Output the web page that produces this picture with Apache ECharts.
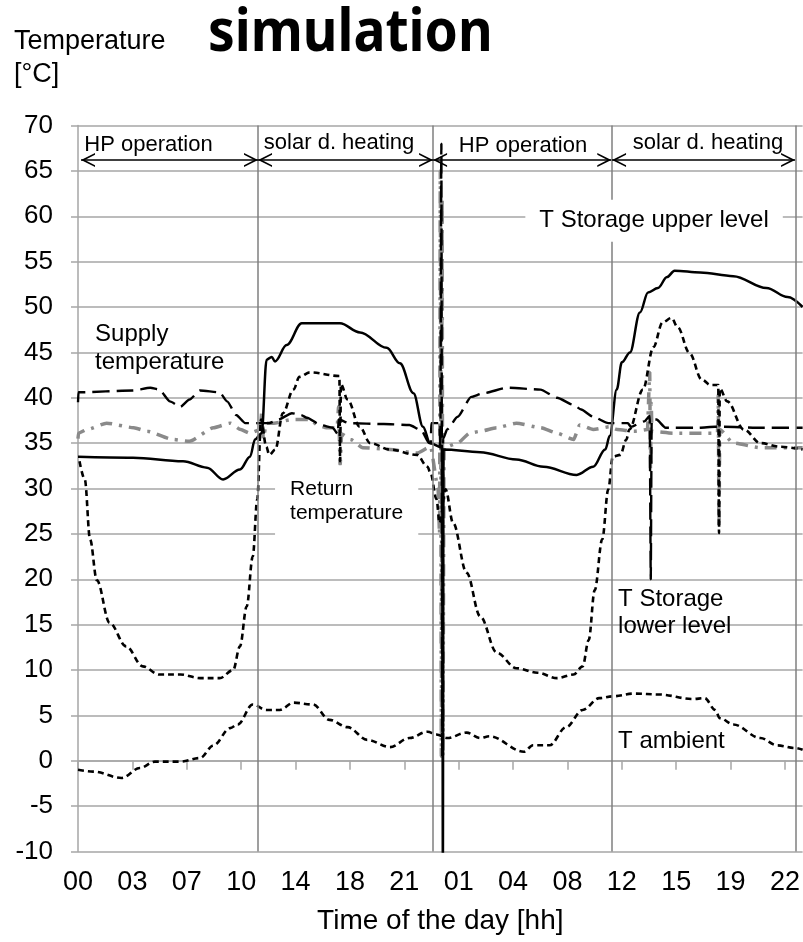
<!DOCTYPE html>
<html>
<head>
<meta charset="utf-8">
<title>simulation</title>
<script src="https://cdn.jsdelivr.net/npm/echarts@6/dist/echarts.min.js"></script>
<style>
  html, body { margin: 0; padding: 0; background: #fff; }
  #chart { width: 803px; height: 942px; }
</style>
</head>
<body>
<div id="chart"></div>
<script>
// values: [hour since start, °C]
const upperStorage = [
  [0, 33.5], [3.65, 33.4], [6.97, 33.0], [8.56, 32.3], [9.63, 31.0], [10.75, 32.1],
  [11.42, 33.5], [11.75, 35.4], [12.19, 36.1], [12.52, 44.2], [12.86, 44.5], [13.08, 44.0],
  [13.85, 45.8], [14.85, 48.2], [17.39, 48.2], [18.72, 47.2], [20.49, 45.5], [21.37, 43.8],
  [22.27, 40.5], [22.9, 36.8], [23.37, 35.0], [24.18, 34.5], [24.22, -12], [24.26, 34.3],
  [26.7, 34.0], [29.1, 33.2], [30.9, 32.4], [33.1, 31.5], [34.2, 32.4], [35.0, 34.3],
  [35.3, 35.8], [35.76, 40.9], [36.1, 43.9], [36.64, 45.0], [37.3, 49.4], [37.84, 51.6],
  [38.5, 52.1], [39.1, 53.3], [39.6, 54.0], [41.3, 53.8], [43.5, 53.4], [45.7, 52.1],
  [47.1, 51.1], [48.1, 50.0]
];

const lowerStorage = [
  [0.1, 33.0], [0.45, 31.0], [0.8, 24.4], [1.25, 19.9], [2.1, 15.2], [3.2, 12.6],
  [4.3, 10.4], [5.4, 9.5], [6.8, 9.5], [8.1, 9.1], [9.4, 9.1], [10.3, 10.0],
  [10.75, 12.6], [11.2, 17.0], [11.6, 22.5], [11.9, 28.8], [12.15, 37.6], [12.5, 34.6],
  [12.7, 33.7], [13.1, 34.3], [13.6, 38.3], [14.3, 40.9], [14.7, 42.3], [15.4, 42.8],
  [17.35, 42.4], [17.4, 33.0], [17.45, 41.5], [17.9, 39.8], [18.7, 36.8], [19.4, 35.0],
  [20.7, 34.3], [22.5, 33.7], [23.2, 32.4], [23.4, 31.7], [23.8, 28.8], [24.0, 26.2],
  [24.4, 29.9], [24.9, 26.2], [25.8, 20.7], [26.7, 15.9], [27.8, 11.9], [29.1, 10.2],
  [30.5, 9.7], [31.8, 9.1], [32.9, 9.5], [33.5, 10.4], [33.9, 13.3], [34.3, 18.8],
  [34.8, 24.4], [35.2, 29.9], [35.5, 33.5], [36.0, 33.7], [36.4, 35.4], [36.6, 36.5],
  [37.5, 40.9], [38.2, 45.6], [38.8, 48.3], [39.4, 48.8], [39.8, 47.8], [40.6, 44.9],
  [41.4, 42.0], [42.0, 41.4], [42.5, 41.4], [42.55, 25.1], [42.6, 41.0], [43.1, 39.6],
  [44.2, 36.5], [45.3, 35.0], [46.6, 34.6], [48.1, 34.3]
];

const supplyTemp = [
  [0, 39.5], [0.03, 40.6], [3.65, 40.8], [4.8, 41.1], [5.4, 40.9], [6.1, 39.6],
  [6.8, 39.0], [7.4, 39.8], [8.1, 40.8], [9.4, 40.6], [9.9, 39.6], [10.5, 38.1],
  [11.1, 37.2], [11.9, 37.2], [12.7, 37.2], [13.3, 37.6], [14.2, 38.3], [14.8, 38.1],
  [15.2, 37.8], [16.1, 37.0], [16.9, 36.7], [17.25, 36.0], [17.3, 37.6], [18.0, 37.2],
  [20.3, 37.1], [22.0, 37.0], [22.8, 36.4], [23.3, 35.0], [23.42, 35.0], [23.45, 37.2],
  [24.0, 37.2], [24.05, 34.5], [24.12, 68.0], [24.18, 0.5], [24.24, 35.5], [24.5, 36.5],
  [25.2, 37.9], [26.1, 40.1], [26.9, 40.5], [28.5, 41.1], [30.7, 40.9], [31.8, 40.0],
  [32.9, 39.2], [33.4, 38.7], [34.2, 37.9], [35.2, 37.2], [36.5, 37.2], [36.7, 36.8],
  [37.6, 37.4], [37.95, 38.0], [38.02, 20.0], [38.08, 37.6], [38.4, 37.6], [39.0, 36.7],
  [41.2, 36.7], [42.3, 36.8], [42.9, 36.8], [45.0, 36.7], [48.1, 36.7]
];

const returnTemp = [
  [0, 35.5], [0.03, 36.1], [0.6, 36.5], [1.9, 37.2], [3.7, 36.7], [4.6, 36.3],
  [6.3, 35.4], [7.4, 35.2], [9.0, 36.7], [10.1, 37.2], [10.8, 36.5], [11.4, 36.1],
  [12.1, 36.5], [12.2, 38.5], [12.3, 35.5], [12.5, 37.2], [13.0, 37.2], [14.2, 37.6],
  [15.4, 37.6], [15.9, 37.0], [16.5, 36.7], [17.2, 36.7], [17.3, 39.0], [17.4, 32.6],
  [17.5, 36.0], [18.1, 35.4], [18.9, 34.5], [20.7, 34.3], [22.5, 33.9], [23.4, 34.6],
  [23.9, 30.0], [24.0, 25.0], [24.05, 65.0], [24.12, 0.5], [24.17, 62.0], [24.22, 0.5],
  [24.3, 34.5], [25.2, 35.0], [26.0, 36.1], [26.7, 36.3], [27.8, 36.7], [29.1, 37.2],
  [30.7, 36.7], [31.8, 36.1], [32.9, 35.4], [33.3, 37.0], [34.2, 36.5], [35.3, 36.8],
  [35.8, 36.5], [36.9, 36.3], [37.8, 36.5], [37.95, 42.8], [38.0, 32.1], [38.05, 39.4],
  [38.1, 36.3], [39.5, 36.1], [41.7, 36.1], [42.45, 36.1], [42.5, 40.3], [42.55, 25.7],
  [42.6, 36.5], [43.5, 35.0], [45.3, 34.5], [48.1, 34.5]
];

const ambientTemp = [
  [0, -1.0], [1.0, -1.2], [2.9, -1.9], [4.1, -0.8], [5.1, -0.1], [6.8, -0.1],
  [8.1, 0.3], [9.0, 1.7], [10.1, 3.6], [10.6, 4.0], [11.6, 6.2], [12.5, 5.6],
  [13.4, 5.6], [14.3, 6.4], [15.6, 6.2], [16.7, 4.5], [17.9, 3.7], [19.2, 2.3],
  [20.7, 1.5], [22.0, 2.5], [23.2, 3.2], [23.8, 2.9], [24.5, 2.5], [25.8, 3.1],
  [26.7, 2.5], [27.3, 2.7], [29.6, 1.0], [30.2, 1.7], [31.3, 1.7], [32.4, 3.7],
  [33.5, 5.6], [34.6, 6.9], [35.5, 7.1], [36.9, 7.4], [38.6, 7.3], [40.8, 6.8],
  [41.6, 6.9], [42.3, 5.6], [42.6, 4.7], [43.5, 4.0], [45.3, 2.5], [46.4, 1.7],
  [47.6, 1.4], [48.1, 1.2]
];

// operating phases
const boundaryHours = [11.95, 23.57, 35.45, 47.66];
const phaseSpans = [[0.2, 11.95], [11.95, 23.57], [23.57, 35.4], [35.45, 47.6]];
const phaseArrowTemp = 66.2;

// axis
const hourStep = 3.61;
const hourMax = 48.1;

const font = 'Liberation Sans, Arial, sans-serif';
const gridGray = '#a6a6a6';

// open arrow head, tip in the middle of its box so it sits on the line end
const openArrow = 'path://M7,0M7,14L14,28L12.2,28L7,17.8L1.8,28L0,28Z';

const notes = [
  { text: 'HP operation', at: [4.68, 67.9], size: 22 },
  { text: 'solar d. heating', at: [17.33, 68.1], size: 22 },
  { text: 'HP operation', at: [29.54, 67.7], size: 22 },
  { text: 'solar d. heating', at: [41.82, 68.1], size: 22 },
  { text: 'T Storage upper level', at: [38.24, 59.5], size: 24, pad: [9, 14, 9, 14] },
  { text: 'Supply\ntemperature', at: [1.13, 45.4], size: 24, lh: 28, align: 'left' },
  { text: 'Return\ntemperature', at: [13.08, 28.6], size: 21, lh: 24, align: 'left', pad: [10, 15, 14, 15] },
  { text: 'T Storage\nlower level', at: [35.85, 16.25], size: 24, lh: 27, align: 'left' },
  { text: 'T ambient', at: [35.85, 2.1], size: 24, align: 'left' }
];

const chart = echarts.init(document.getElementById('chart'));

function lineSeries(name, data, style, smooth, z) {
  return {
    name: name,
    type: 'line',
    data: data,
    showSymbol: false,
    symbol: 'none',
    silent: true,
    smooth: smooth,
    smoothMonotone: 'x',
    z: z,
    lineStyle: style
  };
}

chart.setOption({
  animation: false,
  backgroundColor: '#fff',
  grid: { left: 78, right: 0, top: 125.5, bottom: 90.5 },
  xAxis: {
    type: 'value',
    min: 0,
    max: hourMax,
    interval: hourStep,
    name: 'Time of the day [hh]',
    nameLocation: 'middle',
    nameGap: 56,
    nameTextStyle: { fontFamily: font, fontSize: 28, color: '#000' },
    axisLine: { lineStyle: { color: gridGray, width: 1.5 } },
    axisTick: { show: true, length: 9, lineStyle: { color: gridGray, width: 1.5 } },
    splitLine: { show: false },
    axisLabel: {
      fontFamily: font,
      fontSize: 27,
      color: '#000',
      margin: 18,
      showMaxLabel: false,
      formatter: (v) => String(Math.floor(v + 1e-6) % 24).padStart(2, '0')
    }
  },
  yAxis: {
    type: 'value',
    min: -10,
    max: 70,
    interval: 5,
    axisLine: { show: true, lineStyle: { color: gridGray, width: 1.5 } },
    axisTick: { show: true, length: 7, lineStyle: { color: gridGray, width: 1.5 } },
    splitLine: { show: true, lineStyle: { color: gridGray, width: 1.5 } },
    axisLabel: { fontFamily: font, fontSize: 26, color: '#000', margin: 25 }
  },
  series: [
    lineSeries('Return temperature', returnTemp,
      { color: '#8a8a8a', width: 3.5, type: [12, 7, 3, 7] }, 0.2, 2),
    lineSeries('T ambient', ambientTemp,
      { color: '#000', width: 2.6, type: [6, 4] }, 0.35, 3),
    lineSeries('T Storage lower level', lowerStorage,
      { color: '#000', width: 2.6, type: [6, 4] }, 0.35, 3),
    lineSeries('Supply temperature', supplyTemp,
      { color: '#000', width: 2.4, type: [17, 7] }, 0.2, 3),
    lineSeries('T Storage upper level', upperStorage,
      { color: '#000', width: 2.5, type: 'solid' }, 0.35, 4),
    {
      name: 'phase boundaries',
      type: 'line',
      data: [],
      z: 1,
      markLine: {
        silent: true,
        animation: false,
        symbol: ['none', 'none'],
        label: { show: false },
        lineStyle: { color: '#7f7f7f', width: 1.5, type: 'solid' },
        data: boundaryHours.map((h) => ({ xAxis: h }))
      }
    },
    {
      name: 'phase arrows',
      type: 'line',
      data: [],
      z: 5,
      markLine: {
        silent: true,
        animation: false,
        symbol: [openArrow, openArrow],
        symbolSize: [14, 28],
        label: { show: false },
        itemStyle: { color: '#000' },
        lineStyle: { color: '#000', width: 1.6, type: 'solid' },
        data: phaseSpans.map(([a, b]) => [
          { coord: [a, phaseArrowTemp] },
          { coord: [b, phaseArrowTemp] }
        ])
      }
    }
  ]
});

const graphics = [
  {
    type: 'text',
    x: 208,
    y: 34,
    scaleX: 0.905,
    style: {
      text: 'simulation',
      font: 'bold 59px "Noto Sans", sans-serif',
      fill: '#000',
      align: 'left',
      verticalAlign: 'middle'
    }
  },
  {
    type: 'text',
    x: 14,
    y: 42,
    style: { text: 'Temperature', font: '27px ' + font, fill: '#000', align: 'left', verticalAlign: 'middle' }
  },
  {
    type: 'text',
    x: 14,
    y: 75,
    style: { text: '[°C]', font: '27px ' + font, fill: '#000', align: 'left', verticalAlign: 'middle' }
  }
];

notes.forEach((n) => {
  const p = chart.convertToPixel({ gridIndex: 0 }, n.at);
  const style = {
    text: n.text,
    font: n.size + 'px ' + font,
    fill: '#000',
    align: n.align || 'center',
    verticalAlign: 'middle'
  };
  if (n.lh) style.lineHeight = n.lh;
  if (n.pad) {
    style.backgroundColor = '#fff';
    style.padding = n.pad;
  }
  graphics.push({ type: 'text', x: p[0], y: p[1], z: 50, silent: true, style: style });
});

chart.setOption({ graphic: graphics });
</script>
</body>
</html>
